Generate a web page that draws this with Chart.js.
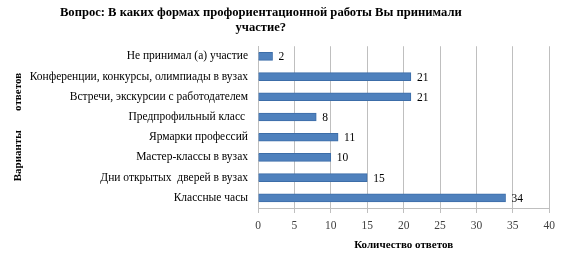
<!DOCTYPE html>
<html><head><meta charset="utf-8">
<script src="https://cdn.jsdelivr.net/npm/chart.js@4/dist/chart.umd.min.js"></script>
<style>html,body{margin:0;padding:0;background:#fff}#wrap{width:561px;height:258px}</style>
</head><body><div id="wrap"><canvas id="c" width="561" height="258"></canvas></div>
<script>
const categories = ["Не принимал (а) участие","Конференции, конкурсы, олимпиады в вузах","Встречи, экскурсии с работодателем","Предпрофильный класс ","Ярмарки профессий","Мастер-классы в вузах","Дни открытых  дверей в вузах","Классные часы"];
const values = [2,21,21,8,11,10,15,34];
const xTicks = [0,5,10,15,20,25,30,35,40];
const titleLines = ["Вопрос: В каких формах профориентационной работы Вы принимали","участие?"];
const xTitle = "Количество ответов";
const yTitle = "Варианты\u00a0\u00a0\u00a0\u00a0\u00a0\u00a0\u00a0ответов";

const FONT = "'Liberation Serif','Times New Roman',serif";
const PAD = "\u00a0".repeat(9);
const labelPlugin = {
  id:'vals',
  afterDatasetsDraw(chart){
    const ctx = chart.ctx; const meta = chart.getDatasetMeta(0);
    ctx.save(); ctx.font = "11.5px " + FONT; ctx.fillStyle = "#000"; ctx.textBaseline="middle"; ctx.textAlign="left";
    meta.data.forEach((b,i)=>{ ctx.fillText(String(values[i]), b.x + 6, b.y + 1); });
    ctx.restore();
  }
};
new Chart(document.getElementById('c'),{
  type:'bar',
  data:{labels:categories,datasets:[{data:values,backgroundColor:'#4F81BD',borderColor:'#3C6DA8',borderWidth:1,barThickness:8}]},
  options:{
    indexAxis:'y',responsive:false,animation:false,devicePixelRatio:1,
    layout:{padding:{left:0,right:11,top:0,bottom:6}},
    plugins:{legend:{display:false},tooltip:{enabled:false},
      title:{display:true,text:titleLines.map(t=>t+PAD),font:{family:FONT,size:12.6,weight:'bold'},color:'#000',padding:{top:5,bottom:11},lineHeight:1.2}},
    scales:{
      x:{min:0,max:40,afterBuildTicks(s){s.ticks = xTicks.map(v=>({value:v}));},
        grid:{color:'#BFBFBF',drawTicks:true,tickLength:5,tickColor:'#BFBFBF'},border:{color:'#BFBFBF'},
        ticks:{font:{family:FONT,size:11.5},color:'#404040',padding:6},
        title:{display:true,text:xTitle,font:{family:FONT,size:11,weight:'bold'},color:'#000',padding:{top:0,bottom:0}}},
      y:{afterFit(s){s.width=258;},
        grid:{display:false,drawTicks:false},border:{color:'#BFBFBF'},
        ticks:{font:{family:FONT,size:11.5},color:'#000',padding:10},
        title:{display:true,text:yTitle,font:{family:FONT,size:11,weight:'bold'},color:'#000',padding:{top:12,bottom:0}}}
    }
  },
  plugins:[labelPlugin]
});
</script></body></html>
